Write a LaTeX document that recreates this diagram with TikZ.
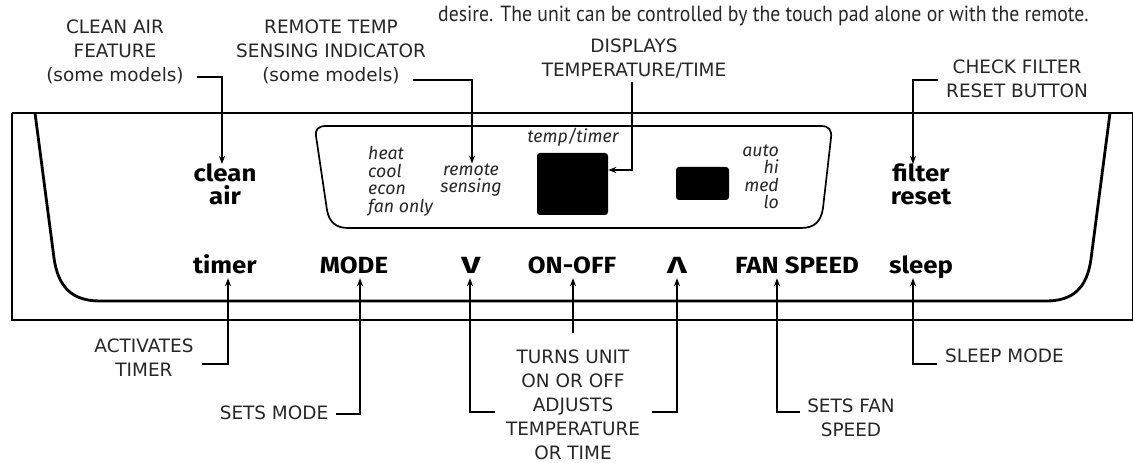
\documentclass[tikz,border=0pt]{standalone}
\usepackage{fontspec}
\setmainfont{DejaVu Sans}
\newfontfamily\keyfont{Fira Sans}[FakeStretch=1.1]
\newfontfamily\indfont{Fira Sans}
\newfontfamily\topfont{PT Sans}[FakeStretch=0.9]
\usetikzlibrary{arrows.meta}
\tikzset{
  lab/.style={font={\fontsize{18.5}{24}\selectfont}, align=center, inner sep=0pt, text=black!85},
  keyt/.style={font={\keyfont\bfseries\fontsize{23.5}{23}\selectfont}, inner sep=4bp, text depth=0pt, anchor=base},
  ind/.style={font={\indfont\itshape\fontsize{17.8}{17.5}\selectfont}, inner sep=0pt, text=black!85},
  arr/.style={-{Stealth[length=8bp,width=6bp]}, line width=1.7bp},
  blk/.style={fill=black, rounded corners=3bp, draw=none}
}
\begin{document}
\begin{tikzpicture}[x=1bp,y=-1bp]
\useasboundingbox (0,0) rectangle (1133,463);
% top text
\node[font={\topfont\fontsize{22}{24}\selectfont}, anchor=base west, inner sep=0pt, text=black!85] (top) at (438,22)
  {desire. The unit can be controlled by the touch pad alone or with the remote.};
% panel outline
\draw[line width=1.3bp] (12,113) -- (1133,113);
\draw[line width=1.3bp] (12,113) -- (12,320) -- (1133,320);
\draw[line width=1.3bp] (1132.3,113) -- (1132.3,320);
\draw[line width=2.8bp] (35,113) -- (54,258) .. controls (58,287) and (72,301) .. (100,301)
  -- (1046,301) .. controls (1073,301) and (1087,288) .. (1091,259) -- (1110,113);
% display window
\draw[line width=1.7bp] (326,126) -- (821,126) .. controls (829,126) and (832,130) .. (831,138)
  -- (823,208) .. controls (821,222) and (814,228) .. (801,228) -- (348,228)
  .. controls (336,228) and (329,222) .. (327,210) -- (316,136)
  .. controls (315,130) and (318,126) .. (326,126) -- cycle;
\node[blk, minimum width=71bp, minimum height=62bp] (bigbox) at (572.5,184) {};
\node[blk, minimum width=53bp, minimum height=33bp] (smallbox) at (702.5,183.5) {};
\node[ind, anchor=base] (tt) at (573,143) {temp/timer};
\node[ind, anchor=north west, align=left] (modes) at (368,146.5) {heat\\cool\\econ\\fan only};
\node[ind, anchor=north, align=center] (remote) at (471,163.5) {remote\\sensing};
\node[ind, anchor=north east, align=right] (speeds) at (779,144.5) {auto\\hi\\med\\lo};
% panel keys
\node[keyt, anchor=north, align=center, inner sep=0pt] (clean) at (225,164) {clean\\air};
\node[keyt, anchor=north, align=center, inner sep=0pt] (filter) at (921,164) {filter\\reset};
\node[keyt] (timer) at (225,274) {timer};
\node[keyt] (mode) at (354,274) {MODE};
\node[keyt] (down) at (471,274) {\scalebox{1.3}[1]{V}};
\node[keyt] (onoff) at (572,274) {ON-OFF};
\node[keyt] (up) at (677,274) {\scalebox{1.3}[1]{Λ}};
\node[keyt] (fan) at (797,274) {FAN SPEED};
\node[keyt] (sleep) at (921,274) {sleep};
% callout labels
\node[lab, anchor=north] (caf) at (115,19.5) {CLEAN AIR\\FEATURE\\(some models)};
\node[lab, anchor=north] (rts) at (331,19.5) {REMOTE TEMP\\SENSING INDICATOR\\(some models)};
\node[lab, anchor=north] (dtt) at (634,38.5) {DISPLAYS\\TEMPERATURE/TIME};
\node[lab, anchor=north] (cfr) at (1017,59.5) {CHECK FILTER\\RESET BUTTON};
\node[lab, anchor=north] (at) at (144,338.5) {ACTIVATES\\TIMER};
\node[lab, anchor=north] (sm) at (274,405.5) {SETS MODE};
\node[lab, anchor=north] (tu) at (573,349.5) {TURNS UNIT\\ON OR OFF\\ADJUSTS\\TEMPERATURE\\OR TIME};
\node[lab, anchor=north] (sfs) at (851,398.5) {SETS FAN\\SPEED};
\node[lab, anchor=north west] (slm) at (945,348.5) {SLEEP MODE};
% connector ends
\coordinate (c1) at (197,77);
\coordinate (c2) at (413,80);
\coordinate (c3) at (632,82);
\coordinate (c4) at (938,80);
\coordinate (c5) at (202,364);
\coordinate (c6) at (336,414);
\coordinate (c7) at (495,412);
\coordinate (c8) at (573,333);
\coordinate (c9) at (652,412);
\coordinate (c10) at (800,412);
\coordinate (c11) at (937,364);
% connectors
\draw[arr] (c1) -| ([xshift=-3bp]clean.north);
\draw[arr] (c2) -| ([xshift=1bp]remote.north);
\draw[arr] (c3) |- ([yshift=14bp]bigbox.east);
\draw[arr] (c4) -| ([xshift=-8bp]filter.north);
\draw[arr] (c5) -| ([xshift=3bp]timer.south);
\draw[arr] (c6) -| ([xshift=6bp]mode.south);
\draw[arr] (c7) -| ([xshift=-1bp]down.south);
\draw[arr] (c8) -- ([xshift=1bp]onoff.south);
\draw[arr] (c9) -| (up.south);
\draw[arr] (c10) -| ([xshift=-20bp]fan.south);
\draw[arr] (c11) -| ([xshift=-8bp]sleep.south);
\end{tikzpicture}
\end{document}
